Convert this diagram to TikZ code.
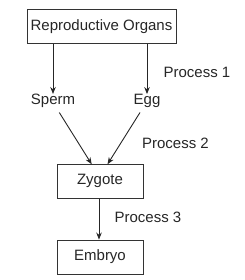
\documentclass[tikz,border=0pt]{standalone}
\usepackage{fontspec}
\setmainfont{Liberation Sans}
\usetikzlibrary{arrows.meta}
\begin{document}
\begin{tikzpicture}[x=1pt,y=-1pt,
  every node/.style={font=\fontsize{15}{18}\selectfont, text=black!85, inner sep=0pt},
  box/.style={draw=black!80, line width=0.9pt, minimum height=34pt},
  conn/.style={draw=black!85, line width=0.9pt, -{Stealth[length=7pt,width=5.5pt]}},
  lbl/.style={anchor=center}]
\useasboundingbox (0,0) rectangle (244,280);
\node[box, minimum width=149pt] (ro) at (101.5,26.5) {Reproductive Organs};
\node (sperm) at (53,101) {Sperm};
\node (egg) at (147,101) {Egg};
\node[box, minimum width=86pt] (zyg) at (100,181.3) {Zygote};
\node[box, minimum width=86pt] (emb) at (100,257) {Embryo};
\node[lbl] (p1) at (197,72.5) {Process 1};
\node[lbl] (p2) at (175.5,143) {Process 2};
\node[lbl] (p3) at (148,217.5) {Process 3};
\coordinate (a1) at (53,43.3);
\coordinate (a2) at (147,43.3);
\coordinate (s1) at (59.3,112.5);
\coordinate (e1) at (140,112.5);
\coordinate (z1) at (91.7,164.3);
\coordinate (z2) at (107.5,164.3);
\draw[conn] (ro.south -| sperm) -- (sperm.north);
\draw[conn] (ro.south -| egg) -- (egg.north);
\draw[conn] (s1) -- (z1);
\draw[conn] (e1) -- (z2);
\draw[conn] (zyg.south -| 99,0) -- (emb.north -| 99,0);
\end{tikzpicture}
\end{document}
